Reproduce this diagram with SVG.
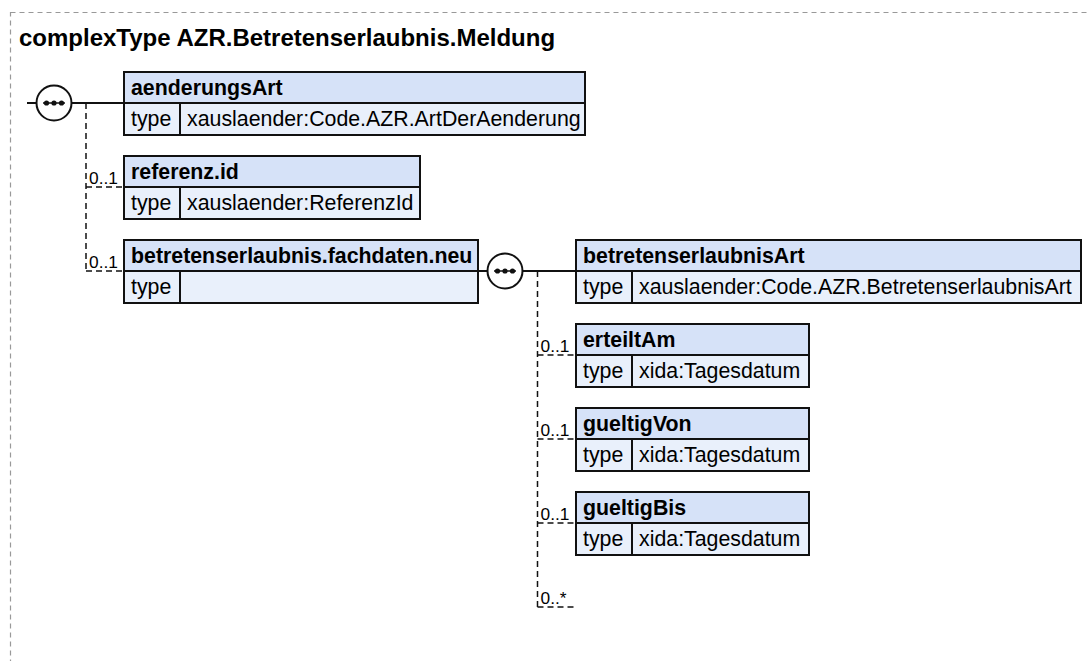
<svg xmlns="http://www.w3.org/2000/svg" width="1089" height="661" viewBox="0 0 1089 661">
<style>
.frame{fill:none;stroke:#999;stroke-width:1.2;stroke-dasharray:5,4}
.title{font-family:"Liberation Sans",Arial,sans-serif;font-weight:bold;font-size:24px;fill:#000}
.hdr{fill:#d6e2f8;stroke:#111;stroke-width:2}
.row{fill:#e9f0fb;stroke:#111;stroke-width:2}
.name{font-family:"Liberation Sans",Arial,sans-serif;font-weight:bold;font-size:21.33px;fill:#000}
.txt{font-family:"Liberation Sans",Arial,sans-serif;font-size:21.33px;fill:#000}
.card{font-family:"Liberation Sans",Arial,sans-serif;font-size:17.33px;fill:#000}
.solid{fill:none;stroke:#111;stroke-width:1.8}
.dash{fill:none;stroke:#111;stroke-width:1.5;stroke-dasharray:6,4}
.seq{fill:#fff;stroke:#111;stroke-width:2}
.dot{fill:#111}
</style>
<defs>
<g id="seqicon">
<circle class="seq" cx="0" cy="0" r="17.5"/>
<line x1="-11" y1="0" x2="11" y2="0" stroke="#111" stroke-width="1.5"/>
<circle class="dot" cx="-7.5" cy="0" r="2.6"/>
<circle class="dot" cx="0" cy="0" r="2.6"/>
<circle class="dot" cx="7.5" cy="0" r="2.6"/>
</g>
</defs>
<rect class="frame" x="10.5" y="12.5" width="1200" height="800"/>
<text class="title" x="19" y="46">complexType AZR.Betretenserlaubnis.Meldung</text>

<g id="connectors">
<line class="solid" x1="27" y1="103" x2="124" y2="103"/>
<path class="dash" d="M86,103 V271"/>
<path class="dash" d="M86,187 H124"/>
<path class="dash" d="M86,271 H124"/>
<text class="card" x="89" y="184">0..1</text>
<text class="card" x="89" y="268">0..1</text>
<line class="solid" x1="478" y1="271" x2="576" y2="271"/>
<path class="dash" d="M537.5,271 V607"/>
<path class="dash" d="M537.5,355 H576"/>
<path class="dash" d="M537.5,439 H576"/>
<path class="dash" d="M537.5,523 H576"/>
<path class="dash" d="M537.5,607 H574"/>
<text class="card" x="540.5" y="352">0..1</text>
<text class="card" x="540.5" y="436">0..1</text>
<text class="card" x="540.5" y="520">0..1</text>
<text class="card" x="540.5" y="604">0..*</text>
<use href="#seqicon" x="54" y="103"/>
<use href="#seqicon" x="505" y="271"/>
</g>

<g id="aenderungsArt">
<rect class="hdr" x="124" y="72" width="461" height="31"/>
<rect class="row" x="124" y="103" width="56" height="32"/>
<rect class="row" x="180" y="103" width="405" height="32"/>
<text class="name" x="131" y="94.5">aenderungsArt</text>
<text class="txt" x="131" y="126">type</text>
<text class="txt" x="187" y="126">xauslaender:Code.AZR.ArtDerAenderung</text>
</g>

<g id="referenz.id">
<rect class="hdr" x="124" y="156" width="296" height="31"/>
<rect class="row" x="124" y="187" width="56" height="32"/>
<rect class="row" x="180" y="187" width="240" height="32"/>
<text class="name" x="131" y="178.5">referenz.id</text>
<text class="txt" x="131" y="210">type</text>
<text class="txt" x="187" y="210">xauslaender:ReferenzId</text>
</g>

<g id="betretenserlaubnis.fachdaten.neu">
<rect class="hdr" x="124" y="240" width="354" height="31"/>
<rect class="row" x="124" y="271" width="56" height="32"/>
<rect class="row" x="180" y="271" width="298" height="32"/>
<text class="name" x="131" y="262.5">betretenserlaubnis.fachdaten.neu</text>
<text class="txt" x="131" y="294">type</text>
</g>

<g id="betretenserlaubnisArt">
<rect class="hdr" x="576" y="240" width="505" height="31"/>
<rect class="row" x="576" y="271" width="56" height="32"/>
<rect class="row" x="632" y="271" width="449" height="32"/>
<text class="name" x="583" y="262.5">betretenserlaubnisArt</text>
<text class="txt" x="583" y="294">type</text>
<text class="txt" x="639" y="294">xauslaender:Code.AZR.BetretenserlaubnisArt</text>
</g>

<g id="erteiltAm">
<rect class="hdr" x="576" y="324" width="233" height="31"/>
<rect class="row" x="576" y="355" width="56" height="32"/>
<rect class="row" x="632" y="355" width="177" height="32"/>
<text class="name" x="583" y="346.5">erteiltAm</text>
<text class="txt" x="583" y="378">type</text>
<text class="txt" x="639" y="378">xida:Tagesdatum</text>
</g>

<g id="gueltigVon">
<rect class="hdr" x="576" y="408" width="233" height="31"/>
<rect class="row" x="576" y="439" width="56" height="32"/>
<rect class="row" x="632" y="439" width="177" height="32"/>
<text class="name" x="583" y="430.5">gueltigVon</text>
<text class="txt" x="583" y="462">type</text>
<text class="txt" x="639" y="462">xida:Tagesdatum</text>
</g>

<g id="gueltigBis">
<rect class="hdr" x="576" y="492" width="233" height="31"/>
<rect class="row" x="576" y="523" width="56" height="32"/>
<rect class="row" x="632" y="523" width="177" height="32"/>
<text class="name" x="583" y="514.5">gueltigBis</text>
<text class="txt" x="583" y="546">type</text>
<text class="txt" x="639" y="546">xida:Tagesdatum</text>
</g>
</svg>
